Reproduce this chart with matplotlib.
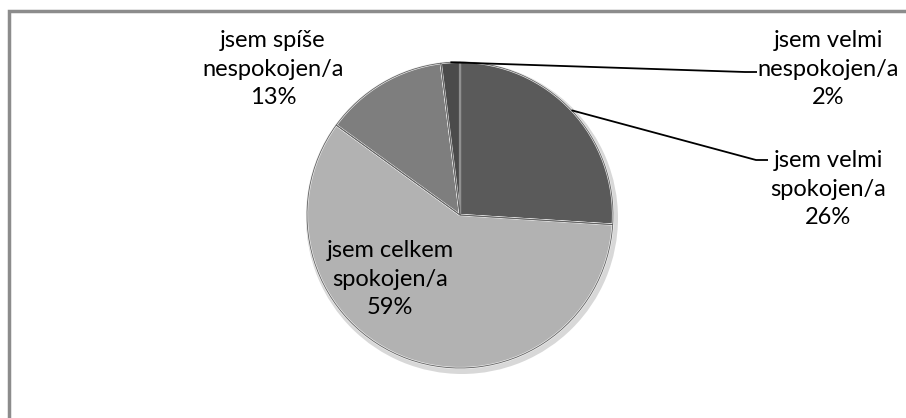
import numpy as np
import matplotlib.pyplot as plt
from matplotlib.patches import Rectangle

# data
labels = ['jsem velmi\nspokojen/a', 'jsem celkem\nspokojen/a',
          'jsem spíše\nnespokojen/a', 'jsem velmi\nnespokojen/a']
values = [26, 59, 13, 2]
colors = ['#5a5a5a', '#b2b2b2', '#7e7e7e', '#4b4b4b']

plt.rcParams['font.family'] = ['Lato', 'DejaVu Sans']

W, H = 906, 418
fig = plt.figure(figsize=(W / 100, H / 100), dpi=100)
ax = fig.add_axes([0, 0, 1, 1])

# chart frame (runs off right and bottom edge)
ax.add_patch(Rectangle((8.5, -20), 1000, H - 10.5 + 20, fill=False,
                       edgecolor='#8c8c8c', lw=2.5))

cx, cy, r = 460, H - 215, 153

# soft shadow
ax.pie([1], radius=r + 3, center=(cx + 2, cy - 3), colors=['#d8d8d8'],
       wedgeprops=dict(linewidth=0), frame=True)
wedges, _ = ax.pie(values, radius=r, center=(cx, cy), startangle=90,
                   counterclock=False, colors=colors, frame=True,
                   wedgeprops=dict(edgecolor='#f2f2f2', linewidth=1.5))
# bevel hint: darker rim
ax.pie(values, radius=r, center=(cx, cy), startangle=90, counterclock=False,
       colors=['none'] * 4, frame=True,
       wedgeprops=dict(edgecolor='#606060', linewidth=0.6, fill=False))
ax.set_xlim(0, W)
ax.set_ylim(0, H)
ax.set_aspect('equal')
ax.axis('off')

# label positions (pixel coords, y from top)
lab_pos = [(828, 189), (390, 279), (273, 69), (828, 69)]
fs = 17
for i, (w, lab) in enumerate(zip(wedges, labels)):
    txt = '%s\n%d%%' % (lab, values[i])
    x, y = lab_pos[i]
    ax.text(x, H - y, txt, ha='center', va='center', fontsize=fs,
            linespacing=1.45, color='#000000')

# leader lines for the two slices on the right
for i, (tx, ty) in [(3, (757, 72)), (0, (768, 160))]:
    w = wedges[i]
    ang = np.deg2rad((w.theta1 + w.theta2) / 2)
    px, py = cx + r * np.cos(ang), cy + r * np.sin(ang)
    ax.plot([px, tx - 12, tx], [py, H - ty, H - ty], color='black', lw=1.3,
            solid_capstyle='butt')

fig.savefig('out.png', dpi=100)
